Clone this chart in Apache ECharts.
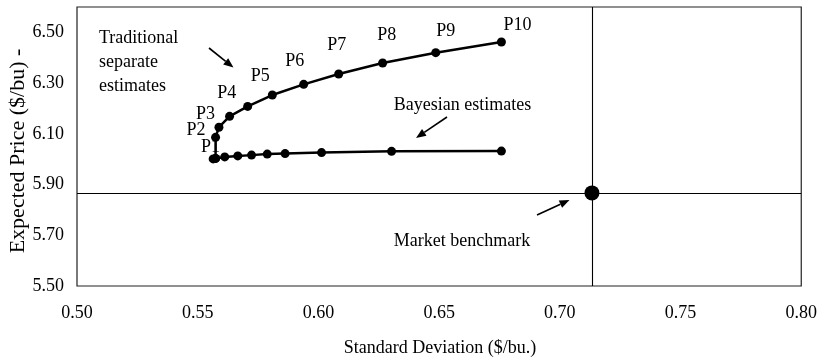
<!DOCTYPE html>
<html>
<head>
<meta charset="utf-8">
<script src="https://cdn.jsdelivr.net/npm/echarts@6/dist/echarts.min.js"></script>
<style>
html,body{margin:0;padding:0;background:#fff;}
#chart{width:820px;height:362px;}
</style>
</head>
<body>
<div id="chart"></div>
<script>
// ---- data ----
const tradSD    = [0.5574, 0.5574, 0.5588, 0.5632, 0.5707, 0.5809, 0.5939, 0.6084, 0.6266, 0.6486, 0.6758];
const tradPrice = [6.003, 6.086, 6.126, 6.169, 6.208, 6.253, 6.295, 6.336, 6.379, 6.420, 6.462];
const tradLabels = ['', 'P1', 'P2', 'P3', 'P4', 'P5', 'P6', 'P7', 'P8', 'P9', 'P10'];
const bayesSD    = [0.5564, 0.5574, 0.5612, 0.5666, 0.5723, 0.5788, 0.5862, 0.6013, 0.6303, 0.6758];
const bayesPrice = [6.001, 6.003, 6.009, 6.013, 6.016, 6.020, 6.022, 6.026, 6.031, 6.032];
const marketSD = 0.7133;
const marketPrice = 5.867;
const xTicks = [0.50, 0.55, 0.60, 0.65, 0.70, 0.75, 0.80];
const yTicks = [5.50, 5.70, 5.90, 6.10, 6.30, 6.50];

// ---- styling ----
const FONT = '"Liberation Serif", "Times New Roman", serif';
const labelOffsets = [[0,0],[-5,10],[-23,3],[-24,-2],[-21,-13],[-12,-19],[-9,-23],[-2,-29],[4,-28],[10,-21],[16,-17]];

const chart = echarts.init(document.getElementById('chart'), null, {renderer: 'canvas'});

function arrow(x1, y1, x2, y2) {
  const a = Math.atan2(y2 - y1, x2 - x1);
  const L = 10, W = 4;
  const bx = x2 - L * Math.cos(a), by = y2 - L * Math.sin(a);
  return [
    {type: 'line', shape: {x1: x1, y1: y1, x2: bx, y2: by}, style: {stroke: '#000', lineWidth: 1.6}},
    {type: 'polygon', shape: {points: [[x2, y2], [bx + W * Math.sin(a), by - W * Math.cos(a)], [bx - W * Math.sin(a), by + W * Math.cos(a)]]}, style: {fill: '#000'}}
  ];
}
function txt(t, x, y, align, rot, size) {
  return {type: 'text', x: x, y: y, rotation: rot || 0,
    style: {text: t, font: (size || 18) + 'px ' + FONT, fill: '#000', align: align || 'left', verticalAlign: 'middle'}};
}

const tradData = tradSD.map((v, i) => ({
  value: [v, tradPrice[i]],
  label: {show: tradLabels[i] !== '', formatter: tradLabels[i], position: 'inside', offset: labelOffsets[i],
    color: '#000', fontFamily: FONT, fontSize: 18, align: 'center', verticalAlign: 'middle'}
}));
const bayesData = bayesSD.map((v, i) => [v, bayesPrice[i]]);

const option = {
  backgroundColor: '#fff',
  animation: false,
  grid: {left: 77, right: 18, top: 7, bottom: 76, show: true, borderColor: '#222', borderWidth: 1.2, backgroundColor: 'transparent'},
  xAxis: {
    type: 'value', min: xTicks[0], max: xTicks[xTicks.length - 1], interval: 0.05,
    axisLine: {show: false}, axisTick: {show: false}, splitLine: {show: false},
    axisLabel: {margin: 18, color: '#000', fontFamily: FONT, fontSize: 18,
      formatter: v => v.toFixed(2)}
  },
  yAxis: {
    type: 'value', min: yTicks[0], max: 6.6, interval: 0.2,
    axisLine: {show: false}, axisTick: {show: false}, splitLine: {show: false},
    axisLabel: {margin: 13, color: '#000', fontFamily: FONT, fontSize: 18, showMaxLabel: false,
      formatter: v => v.toFixed(2)}
  },
  series: [
    {
      name: 'Traditional', type: 'line', data: tradData, symbol: 'circle', symbolSize: 9,
      itemStyle: {color: '#000'}, lineStyle: {color: '#000', width: 2.5}, z: 3
    },
    {
      name: 'Bayesian', type: 'line', data: bayesData, symbol: 'circle', symbolSize: 9,
      itemStyle: {color: '#000'}, lineStyle: {color: '#000', width: 2.5}, z: 3
    },
    {
      name: 'Market', type: 'scatter', data: [[marketSD, marketPrice]], symbol: 'circle', symbolSize: 15,
      itemStyle: {color: '#000', opacity: 1}, z: 4,
      markLine: {silent: true, symbol: 'none', precision: 6, label: {show: false},
        lineStyle: {color: '#000', width: 1.1, type: 'solid'},
        data: [{xAxis: marketSD}, {yAxis: marketPrice}]}
    }
  ],
  graphic: [
    txt('Traditional', 99, 38.5),
    txt('separate', 99, 62),
    txt('estimates', 99, 86),
    ...arrow(209, 48, 233.5, 67.5),
    txt('Bayesian estimates', 462.5, 105.5, 'center'),
    ...arrow(447, 117, 416, 138),
    txt('Market benchmark', 462, 241, 'center'),
    ...arrow(537, 215, 569.5, 200),
    txt('Standard Deviation ($/bu.)', 440, 348, 'center'),
    txt('Expected Price ($/bu) -', 18, 151, 'center', Math.PI / 2, 22)
  ]
};
chart.setOption(option);
</script>
</body>
</html>
